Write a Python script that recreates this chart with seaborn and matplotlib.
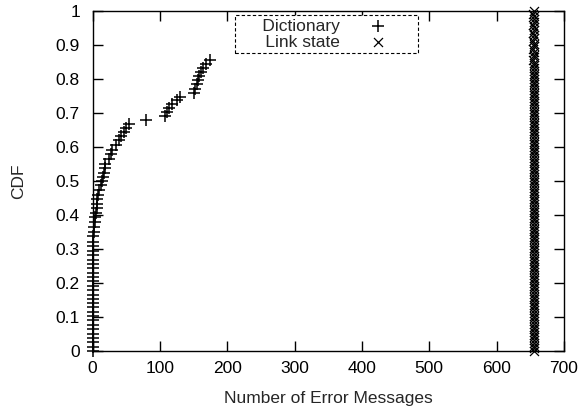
import matplotlib
matplotlib.use('Agg')
import matplotlib.pyplot as plt
import seaborn as sns
import pandas as pd

# ---- data ----
dict_x = [0, 0, 0, 0, 0, 0, 0, 0, 0, 0,
          0, 0, 0, 0, 0, 0, 0, 0, 0, 0,
          0, 0, 0, 0,
          0, 1, 1, 2, 2, 3, 4, 5, 6, 6,
          7, 8, 10, 12, 14, 15, 17, 18, 19, 24,
          27, 29, 35, 40, 43, 47, 50, 54, 80,
          108, 110, 114, 118, 125, 130,
          151, 152, 155, 156, 158, 161, 164, 168, 174]
dict_y = [0.000, 0.013, 0.026, 0.038, 0.051, 0.064, 0.077, 0.090, 0.102, 0.115,
          0.128, 0.141, 0.154, 0.166, 0.179, 0.192, 0.205, 0.218, 0.230, 0.243,
          0.256, 0.269, 0.282, 0.294,
          0.308, 0.322, 0.337, 0.351, 0.366, 0.380, 0.393, 0.407, 0.420, 0.432,
          0.446, 0.459, 0.474, 0.488, 0.500, 0.513, 0.524, 0.537, 0.550, 0.564,
          0.578, 0.591, 0.606, 0.620, 0.632, 0.645, 0.655, 0.668, 0.679,
          0.691, 0.703, 0.715, 0.727, 0.738, 0.748,
          0.760, 0.772, 0.784, 0.796, 0.808, 0.820, 0.832, 0.844, 0.856]

link_x = [655, 655, 655, 655, 655, 655, 655, 655, 655, 655,
          655, 655, 655, 655, 655, 655, 655, 655, 655, 655,
          655, 655, 655, 655, 655, 655, 655, 655, 655, 655,
          655, 655, 655, 655, 655, 655, 655, 655, 655, 655,
          655, 655, 655, 655, 655, 655, 655, 655, 655, 655,
          655, 655, 655, 655, 655, 655, 655, 655, 655, 655,
          655, 655, 655, 655, 655, 655, 655, 655, 655, 655,
          655, 655, 655, 655, 655, 655, 655, 655, 655, 655,
          655, 655, 655, 655, 655, 655, 655, 655, 655, 655,
          655, 655, 655, 655, 655, 655, 655, 655, 655, 655,
          655, 655, 655, 655, 655, 655, 655, 654, 656, 655,
          656, 654, 655, 656, 654, 655, 656, 654, 655, 656,
          654, 655, 656, 655, 654, 655]
link_y = [0.000, 0.008, 0.016, 0.024, 0.032, 0.040, 0.048, 0.056, 0.064, 0.072,
          0.080, 0.088, 0.096, 0.104, 0.112, 0.120, 0.128, 0.136, 0.144, 0.152,
          0.160, 0.168, 0.176, 0.184, 0.192, 0.200, 0.208, 0.216, 0.224, 0.232,
          0.240, 0.248, 0.256, 0.264, 0.272, 0.280, 0.288, 0.296, 0.304, 0.312,
          0.320, 0.328, 0.336, 0.344, 0.352, 0.360, 0.368, 0.376, 0.384, 0.392,
          0.400, 0.408, 0.416, 0.424, 0.432, 0.440, 0.448, 0.456, 0.464, 0.472,
          0.480, 0.488, 0.496, 0.504, 0.512, 0.520, 0.528, 0.536, 0.544, 0.552,
          0.560, 0.568, 0.576, 0.584, 0.592, 0.600, 0.608, 0.616, 0.624, 0.632,
          0.640, 0.648, 0.656, 0.664, 0.672, 0.680, 0.688, 0.696, 0.704, 0.712,
          0.720, 0.728, 0.736, 0.744, 0.752, 0.760, 0.768, 0.776, 0.784, 0.792,
          0.800, 0.808, 0.816, 0.824, 0.832, 0.840, 0.848, 0.856, 0.864, 0.872,
          0.880, 0.888, 0.896, 0.904, 0.912, 0.920, 0.928, 0.936, 0.944, 0.952,
          0.960, 0.968, 0.976, 0.984, 0.992, 1.000]

series_names = ["Dictionary", "Link state"]
x_ticks = [0, 100, 200, 300, 400, 500, 600, 700]
y_ticks = [0, 0.1, 0.2, 0.3, 0.4, 0.5, 0.6, 0.7, 0.8, 0.9, 1.0]
y_tick_labels = ["0", "0.1", "0.2", "0.3", "0.4", "0.5", "0.6", "0.7", "0.8", "0.9", "1"]
x_label = "Number of Error Messages"
y_label = "CDF"

FS = 12.5

# ---- style ----
sns.set_style("ticks")
plt.rcParams['font.family'] = ['Liberation Sans', 'DejaVu Sans']
plt.rcParams['axes.edgecolor'] = 'black'
plt.rcParams['axes.linewidth'] = 1.0

fig = plt.figure(figsize=(5.84, 4.11), dpi=100)
ax = fig.add_axes([92.5 / 584, 60 / 411, (564 - 92.5) / 584, 340 / 411])

df_dict = pd.DataFrame({"x": dict_x, "y": dict_y})
df_link = pd.DataFrame({"x": link_x, "y": link_y})

sns.scatterplot(data=df_dict, x="x", y="y", marker="+", s=64, color="black",
                linewidth=1.1, ax=ax, label="     " + series_names[0],
                clip_on=False, zorder=3)
sns.scatterplot(data=df_link, x="x", y="y", marker="x", s=42, color="black",
                linewidth=0.9, ax=ax, label="     " + series_names[1],
                clip_on=False, zorder=3)

ax.set_xlim(0, 700)
ax.set_ylim(0, 1)
ax.set_xticks(x_ticks)
ax.set_xticklabels([str(t) for t in x_ticks])
ax.set_yticks(y_ticks)
ax.set_yticklabels(y_tick_labels)
ax.minorticks_off()
ax.tick_params(axis="both", direction="in", length=7, width=1, top=True,
               right=True, labelsize=FS, colors="black")
ax.tick_params(axis="x", pad=7)
ax.tick_params(axis="y", pad=9)

ax.set_xlabel(x_label, fontsize=FS, labelpad=11)
ax.set_ylabel(y_label, fontsize=FS, labelpad=21)

for sp in ax.spines.values():
    sp.set_visible(True)
    sp.set_color("black")
    sp.set_linewidth(1.0)

leg = ax.legend(loc="upper center", bbox_to_anchor=(0.4965, 0.988),
                markerfirst=False, frameon=True, fancybox=False,
                edgecolor="black", framealpha=1, fontsize=FS,
                borderpad=0.2, labelspacing=0.05, handletextpad=0.1,
                handlelength=4.2, borderaxespad=0)
frame = leg.get_frame()
frame.set_linestyle((0, (3, 2)))
frame.set_linewidth(0.8)

fig.savefig("out.png", dpi=100)
